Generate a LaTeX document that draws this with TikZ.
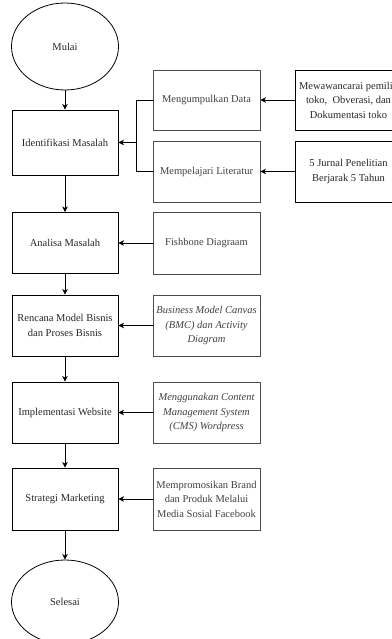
\documentclass[tikz,border=0pt]{standalone}
\usepackage{fontspec}
\setmainfont{Liberation Serif}
\usetikzlibrary{shapes.geometric,arrows.meta}
\newcommand\diafont{\fontsize{10.5}{14.5}\selectfont}
\begin{document}
\begin{tikzpicture}[x=1pt,y=-1pt,
  box/.style={draw=black, line width=0.9pt, minimum width=106pt, minimum height=61pt, inner sep=1pt, align=center, font=\diafont, text=black!85},
  sub/.style={box, draw=black!70, text=black!75},
  term/.style={ellipse, draw=black, line width=0.8pt, minimum width=107pt, minimum height=87pt, inner sep=0pt, font=\diafont, text=black!85},
  arr/.style={-{Stealth[length=5.5pt,width=5.5pt,inset=1.5pt]}, line width=0.9pt},
  con/.style={line width=0.9pt}]
\useasboundingbox (0,0) rectangle (391,639);
% left column
\node[term] (mulai) at (65,46.5) {Mulai};
\node[box, minimum height=65pt] (ident) at (65,142.5) {Identifikasi Masalah};
\node[box] (analisa) at (65,243) {Analisa Masalah};
\node[box] (rencana) at (65,325.5) {Rencana Model Bisnis\\dan Proses Bisnis};
\node[box] (impl) at (65,412.5) {Implementasi Website};
\node[box, minimum height=62pt] (strat) at (65,499) {Strategi Marketing};
\node[term, minimum height=84pt] (selesai) at (65,602) {Selesai};
% middle column
\node[sub, minimum width=107pt, minimum height=60pt] (kumpul) at (206.5,100) {Mengumpulkan Data};
\node[sub, minimum width=107pt] (lit) at (206.5,171.5) {Mempelajari Literatur};
\node[sub, minimum width=107pt, minimum height=62pt] (fish) at (206.5,243) {Fishbone Diagraam};
\node[sub, minimum width=107pt] (bmc) at (206.5,325.5) {\itshape Business Model Canvas\\\itshape (BMC) dan Activity\\\itshape Diagram};
\node[sub, minimum width=107pt] (cms) at (206.5,412.5) {\itshape Menggunakan Content\\\itshape Management System\\\itshape (CMS) Wordpress};
\node[sub, minimum width=107pt, minimum height=62pt] (promo) at (206.5,499) {Mempromosikan Brand\\dan Produk Melalui\\Media Sosial Facebook};
% right column
\node[box, minimum width=107pt, minimum height=60pt] (wawan) at (348.5,100) {Mewawancarai pemilik\\toko,\ \ Obverasi, dan\\Dokumentasi toko};
\node[box, minimum width=107pt] (jurnal) at (348.5,171.5) {5 Jurnal Penelitian\\Berjarak 5 Tahun};
% connectors
\coordinate (j) at (136,142.5);
\draw[arr] (mulai) -- (ident);
\draw[arr] (ident) -- (analisa);
\draw[arr] (analisa) -- (rencana);
\draw[arr] (rencana) -- (impl);
\draw[arr] (impl) -- (strat);
\draw[arr] (strat) -- (selesai);
\draw[con] (kumpul.west) -- (kumpul.west -| j) -- (lit.west -| j) -- (lit.west);
\draw[arr] (j) -- (ident.east);
\draw[arr] (wawan) -- (kumpul);
\draw[arr] (jurnal) -- (lit);
\draw[arr] (fish) -- (analisa);
\draw[arr] (bmc) -- (rencana);
\draw[arr] (cms) -- (impl);
\draw[arr] (promo) -- (strat);
\end{tikzpicture}
\end{document}
